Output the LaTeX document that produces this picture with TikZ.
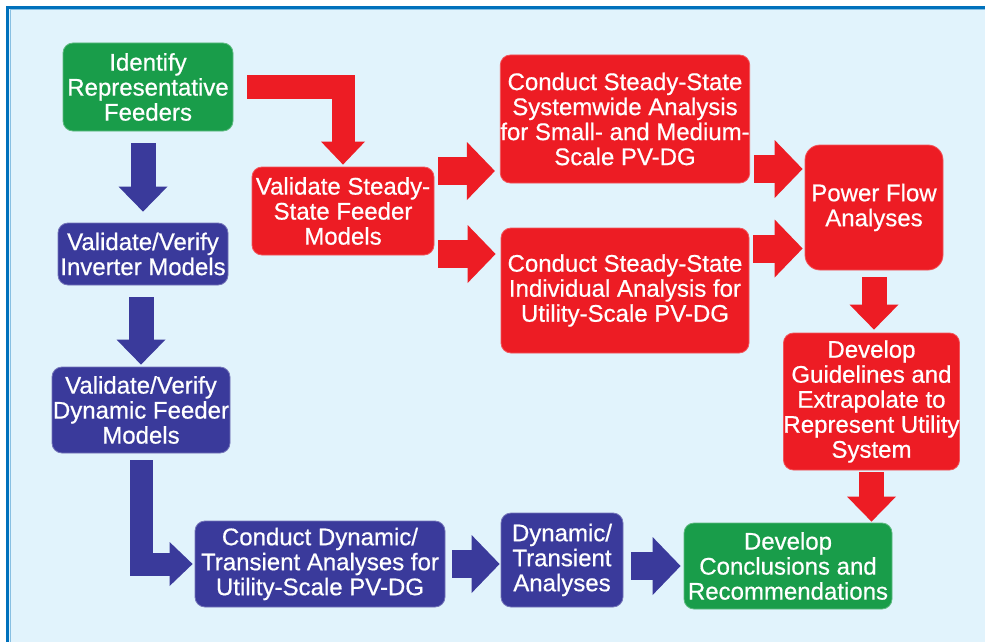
\documentclass[tikz,border=0pt]{standalone}
\usepackage{fontspec}
\usepackage{xcolor}
\usepackage{tikz}
\usetikzlibrary{arrows.meta,calc}

\newfontfamily\boxfont[FakeBold=0.6]{Liberation Sans}

\definecolor{panel}{HTML}{E1F3FC}
\definecolor{rim}{HTML}{0071BC}
\definecolor{boxred}{HTML}{ED1C24}
\definecolor{boxgreen}{HTML}{199D4A}
\definecolor{boxblue}{HTML}{3A3A9B}

\begin{document}
\begin{tikzpicture}[x=1pt,y=-1pt,
    box/.style={rounded corners=10pt, inner sep=0pt, text=white, align=center,
        line width=0.8pt, font=\boxfont\fontsize{24}{25}\selectfont},
    redbox/.style={box, fill=boxred, draw=boxred!75!white},
    greenbox/.style={box, fill=boxgreen, draw=boxgreen!70!white},
    bluebox/.style={box, fill=boxblue, draw=boxblue!70!white},
    flowarrow/.style={line width=28pt, -{Triangle[width=58pt,length=28pt,line width=0pt]}},
    droparrow/.style={line width=25pt, -{Triangle[width=49pt,length=25pt,line width=0pt]}},
    bendarrow/.style={line width=23pt, line join=miter, -{Triangle[width=44pt,length=23pt,line width=0pt]}}
]

        % Frame
        \useasboundingbox (0,0) rectangle (985,642);
        \fill[white] (0,0) rectangle (985,642);
        \fill[panel] (6,6) rectangle (985,642);
        \fill[rim] (6,6) rectangle (985,9);
        \fill[rim] (6,6) rectangle (9,642);
        \draw[rim!40!panel, line width=1pt] (9.5,10) -- (985,10);
        \draw[rim!40!panel, line width=1pt] (10,9.5) -- (10,642);

        % Boxes
        \node[greenbox, minimum width=170pt, minimum height=88pt] (ident) at (148,87)
            {Identify\\Representative\\Feeders};
        \node[bluebox, minimum width=170pt, minimum height=62pt] (inverter) at (143,254)
            {Validate/Verify\\Inverter Models};
        \node[bluebox, minimum width=178pt, minimum height=86pt] (dynfeed) at (141,410)
            {Validate/Verify\\Dynamic Feeder\\Models};
        \node[bluebox, minimum width=250pt, minimum height=86pt] (conddyn) at (320,564)
            {Conduct Dynamic/\\Transient Analyses for\\Utility-Scale PV-DG};
        \node[bluebox, minimum width=122pt, minimum height=94pt] (dyntrans) at (562,560)
            {Dynamic/\\Transient\\Analyses};
        \node[greenbox, minimum width=208pt, minimum height=86pt] (concl) at (788,566)
            {Develop\\Conclusions and\\Recommendations};
        \node[redbox, minimum width=173pt, minimum height=137pt] (guide) at (871.5,401.5)
            {Develop\\Guidelines and\\Extrapolate to\\Represent Utility\\System};
        \node[redbox, rounded corners=15pt, minimum width=138pt, minimum height=125pt] (pflow) at (874,207.5)
            {Power Flow\\Analyses};
        \node[redbox, minimum width=248pt, minimum height=128pt] (sysw) at (625,119)
            {Conduct Steady-State\\Systemwide Analysis\\for Small- and Medium-\\Scale PV-DG};
        \node[redbox, minimum width=248pt, minimum height=125pt] (indiv) at (625,290.5)
            {Conduct Steady-State\\Individual Analysis for\\Utility-Scale PV-DG};
        \node[redbox, minimum width=182pt, minimum height=88pt] (vssfm) at (343,211)
            {Validate Steady-\\State Feeder\\Models};

        % Arrow start points
        \coordinate (toSysw) at ($(vssfm.east)+(0,-40)$);
        \coordinate (toIndiv) at ($(vssfm.east)+(0,43)$);
        \coordinate (fromSysw) at ($(sysw.east)+(0,50)$);
        \coordinate (fromIndiv) at ($(indiv.east)+(0,-42)$);

        % Blue arrows
        \draw[boxblue, droparrow, shorten <=12pt, shorten >=11pt] (inverter.north |- ident.south) -- (inverter.north);
        \draw[boxblue, droparrow, shorten <=12pt, shorten >=2pt] (dynfeed.north |- inverter.south) -- (dynfeed.north);
        \draw[boxblue, bendarrow, shorten <=7pt, shorten >=2pt] (dynfeed.south) |- (conddyn.west);
        \draw[boxblue, flowarrow, shorten <=7pt, shorten >=1pt] (conddyn.east) -- (conddyn.east -| dyntrans.west);
        \draw[boxblue, flowarrow, shorten <=8pt, shorten >=3pt] (dyntrans.east |- concl.west) -- (concl.west);

        % Red arrows
        \draw[boxred, bendarrow, shorten <=14pt, shorten >=2pt] (ident.east) -| (vssfm.north);
        \draw[boxred, flowarrow, shorten <=4pt, shorten >=5pt] (toSysw) -- (toSysw -| sysw.west);
        \draw[boxred, flowarrow, shorten <=4pt, shorten >=5pt] (toIndiv) -- (toIndiv -| indiv.west);
        \draw[boxred, flowarrow, shorten <=4pt, shorten >=2pt] (fromSysw) -- (fromSysw -| pflow.west);
        \draw[boxred, flowarrow, shorten <=4pt, shorten >=2pt] (fromIndiv) -- (fromIndiv -| pflow.west);
        \draw[boxred, droparrow, shorten <=7pt, shorten >=3pt] (pflow.south) -- (pflow.south |- guide.north);
        \draw[boxred, droparrow, shorten <=2pt, shorten >=1pt] (guide.south) -- (guide.south |- concl.north);

    \end{tikzpicture}
\end{document}
